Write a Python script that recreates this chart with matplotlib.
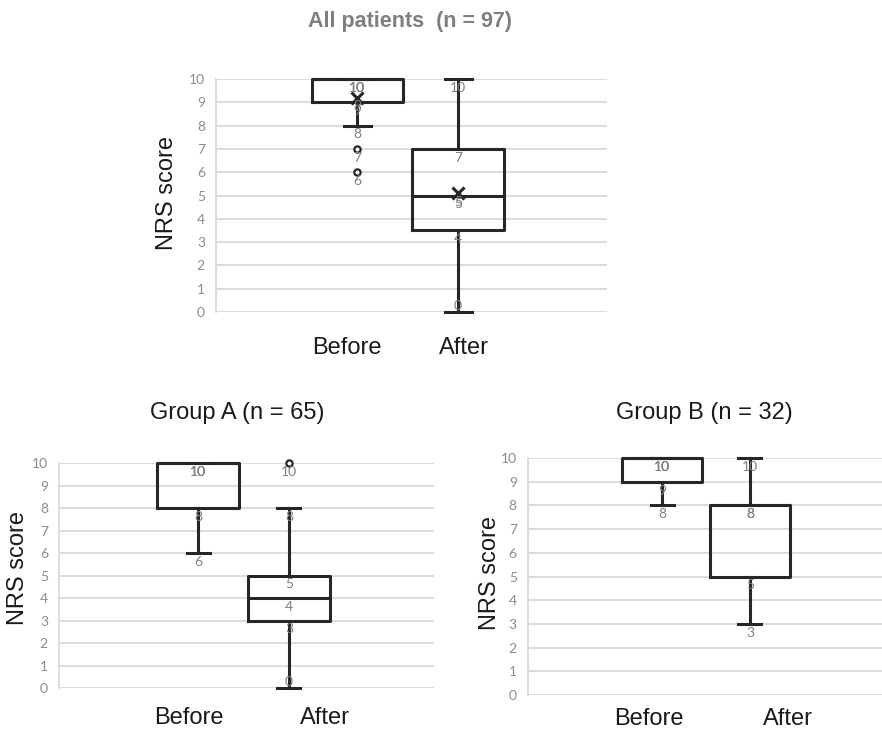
import matplotlib
matplotlib.use("Agg")
import matplotlib.pyplot as plt

# NRS scores, box statistics
categories = ["Before", "After"]

all_q1 = [9, 3.5]
all_med = [10, 5]
all_q3 = [10, 7]
all_lo = [8, 0]
all_hi = [10, 10]
all_mean = [9.2, 5.1]
all_fliers = [[7, 6], []]

a_q1 = [8, 3]
a_med = [10, 4]
a_q3 = [10, 5]
a_lo = [6, 0]
a_hi = [10, 8]
a_fliers = [[], [10]]

b_q1 = [9, 5]
b_med = [10, 8]
b_q3 = [10, 8]
b_lo = [8, 3]
b_hi = [10, 10]
b_fliers = [[], []]

y_ticks = list(range(0, 11))

DARK = "#262626"
GRID = "#d9d9d9"
TICK = "#8c8c8c"
LABEL = "#808080"


def make_stats(q1, med, q3, lo, hi, fliers, mean=None):
    stats = []
    for i in range(len(q1)):
        s = dict(q1=q1[i], med=med[i], q3=q3[i], whislo=lo[i], whishi=hi[i],
                 fliers=fliers[i])
        if mean is not None:
            s["mean"] = mean[i]
        stats.append(s)
    return stats


def draw_panel(ax, stats, positions, width, capw, label_pos, pad, show_mean=False):
    ax.set_xlim(0, 1)
    ax.set_ylim(0, 10)
    ax.set_yticks(y_ticks)
    ax.grid(axis="y", color=GRID, linewidth=1.3, zorder=0)
    ax.set_axisbelow(True)
    for sp in ["top", "right", "bottom"]:
        ax.spines[sp].set_visible(False)
    ax.spines["left"].set_color(GRID)
    ax.spines["left"].set_linewidth(1.3)
    ax.tick_params(axis="y", length=0, labelcolor=TICK, labelsize=10, pad=8)
    for t in ax.get_yticklabels():
        t.set_fontfamily("Lato")
    ax.set_xticks(label_pos)
    ax.set_xticklabels(categories, fontsize=17, color="#1a1a1a", family="Liberation Sans")
    ax.tick_params(axis="x", length=0, pad=pad)

    lp = dict(color=DARK, linewidth=2.2)
    parts = ax.bxp(stats, positions=positions, widths=width, capwidths=capw,
                   showmeans=show_mean, patch_artist=False,
                   boxprops=lp, whiskerprops=lp, capprops=lp, medianprops=lp,
                   meanprops=dict(marker="x", markeredgecolor=DARK, markersize=9,
                                  markeredgewidth=2.2),
                   flierprops=dict(marker="o", markersize=4.5, markerfacecolor="white",
                                   markeredgecolor=DARK, markeredgewidth=1.6),
                   manage_ticks=False, zorder=3)
    for artists in parts.values():
        for a in artists:
            a.set_clip_on(False)

    # data labels (Excel style, just under each value)
    for pos, s in zip(positions, stats):
        vals = [s["whishi"], s["q3"], s["med"], s["q1"], s["whislo"]]
        if show_mean:
            vals.append(s["mean"])
        vals += list(s["fliers"])
        for v in vals:
            if v < 0.5:
                ax.annotate(f"{int(v + 0.5)}", (pos, v), xytext=(0, 4),
                            textcoords="offset points", ha="center", va="center",
                            fontsize=10, color=LABEL, family="Lato", zorder=4)
            else:
                ax.annotate(f"{int(v + 0.5)}", (pos, v), xytext=(0, -2),
                            textcoords="offset points", ha="center", va="top",
                            fontsize=10, color=LABEL, family="Lato", zorder=4)


fig = plt.figure(figsize=(8.82, 7.29), dpi=100)

ax_all = fig.add_axes([0.2449, 0.572, 0.4433, 0.3196])
draw_panel(ax_all, make_stats(all_q1, all_med, all_q3, all_lo, all_hi, all_fliers, all_mean),
           positions=[0.361, 0.619], width=0.233, capw=0.069,
           label_pos=[0.335, 0.634], pad=18, show_mean=True)

ax_a = fig.add_axes([0.0669, 0.0562, 0.4252, 0.3086])
draw_panel(ax_a, make_stats(a_q1, a_med, a_q3, a_lo, a_hi, a_fliers),
           positions=[0.371, 0.613], width=0.219, capw=0.061,
           label_pos=[0.347, 0.709], pad=14)

ax_b = fig.add_axes([0.5986, 0.0466, 0.4014, 0.3251])
draw_panel(ax_b, make_stats(b_q1, b_med, b_q3, b_lo, b_hi, b_fliers),
           positions=[0.379, 0.627], width=0.226, capw=0.065,
           label_pos=[0.342, 0.734], pad=9)

# titles and axis labels
fig.text(0.465, 0.970, "All patients  (n = 97)", ha="center", va="center",
         fontsize=15.5, fontweight="bold", color="#7f7f7f", family="Liberation Sans")
fig.text(0.269, 0.433, "Group A (n = 65)", ha="center", va="center",
         fontsize=17, color="#1a1a1a", family="Liberation Sans")
fig.text(0.799, 0.433, "Group B (n = 32)", ha="center", va="center",
         fontsize=17, color="#1a1a1a", family="Liberation Sans")

for x, y in [(0.189, 0.735), (0.020, 0.221), (0.556, 0.214)]:
    fig.text(x, y, "NRS score", rotation=90, ha="center", va="center",
             fontsize=17, color="#1a1a1a", family="Liberation Sans")

fig.savefig("out.png", dpi=100)
